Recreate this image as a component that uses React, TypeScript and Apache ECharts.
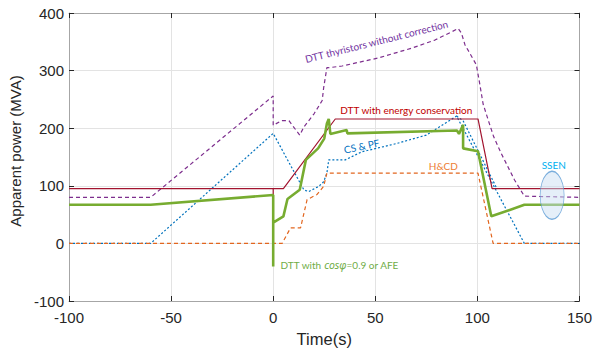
import React, { useEffect, useRef } from "react";
import * as echarts from "echarts";

// ---- data (time s, apparent power MVA) ----
const xTicks = [-100, -50, 0, 50, 100, 150];
const yTicks = [-100, 0, 100, 200, 300, 400];

const purpleThyristors: [number, number][] = [
  [-100, 80], [-60, 80], [0, 256], [0, 205], [4, 213], [7.7, 213], [13, 188],
  [15, 202], [20, 225], [24, 248], [24.7, 270], [26.3, 305], [27.2, 305],
  [33.7, 308], [51.6, 322], [67.8, 339], [79.2, 353], [90.6, 373], [92.2, 365],
  [93.9, 345], [99.5, 310], [101.2, 276], [102.8, 242], [105.5, 212], [108, 185],
  [111.7, 156], [118.2, 110], [123, 82], [150, 80],
];
const blueCsPf: [number, number][] = [
  [-100, 0], [-60, 0], [0, 191], [15, 93], [17.4, 90], [22.3, 99], [24.7, 107],
  [26.3, 122], [27.2, 145], [35.3, 145], [43.4, 159], [60, 173], [75, 188],
  [89.8, 221], [123, 0], [150, 0],
];
const blueCsPf2: [number, number][] = [
  [89.8, 221], [93, 213], [109.3, 97],
];
const orangeHcd: [number, number][] = [
  [-100, 0], [4.4, 0], [8.5, 27], [13.4, 27], [16.6, 76], [21.5, 85],
  [24.7, 99], [26.3, 122], [100.3, 122], [107.7, 0], [150, 0],
];
const redEnergy: [number, number][] = [
  [-100, 95], [0, 95], [0, 84], [0, 95], [5, 95], [30.4, 216], [100.3, 216],
  [107.2, 95], [150, 95],
];
const greenAfe: [number, number][] = [
  [-100, 67], [-60, 67], [0, 84], [0, -40], [0, 36], [5, 47], [7, 77], [13, 93],
  [16, 145], [22, 165], [25, 182], [26.3, 208], [27.2, 216], [28, 190],
  [36, 197], [36.3, 191], [90, 196], [91, 190], [93, 206], [93, 165],
  [100.3, 160], [106.8, 47], [123, 67], [150, 67],
];
const ssenEllipse: [number, number][] = [[136.6, 83.5]];

// annotations: [x, y] in data coords
const annotations = [
  { text: "DTT thyristors without correction", at: [50.6, 351], color: "#7030A0", rot: 14, align: "center" },
  { text: "DTT with energy conservation", at: [65.2, 231], color: "#C00000", rot: 0, align: "center" },
  { text: "CS & PF", at: [43.3, 169], color: "#0070C0", rot: 12, align: "center" },
  { text: "H&CD", at: [83.3, 135], color: "#ED7D31", rot: 0, align: "center" },
  { text: "SSEN", at: [137.4, 136.8], color: "#00B0F0", rot: 0, align: "center" },
];
const greenNoteAt: [number, number] = [3.6, -38];

const FONT = "Liberation Sans, Arial, sans-serif";
const ANNOT_FONT = "Lato, sans-serif";

export default function App() {
  const ref = useRef<HTMLDivElement>(null);
  useEffect(() => {
    if (!ref.current) return;
    const chart = echarts.init(ref.current, undefined, { renderer: "svg" });
    const axisLineColor = "#a6a6a6";
    const tickColor = "#262626";
    const baseX = {
      type: "value" as const,
      min: -100,
      max: 150,
      interval: 50,
      axisLine: { show: true, onZero: false, lineStyle: { color: axisLineColor, width: 1 } },
      axisTick: { show: true, inside: true, length: 5, lineStyle: { color: tickColor } },
    };
    const baseY = {
      type: "value" as const,
      min: -100,
      max: 400,
      interval: 100,
      axisLine: { show: true, onZero: false, lineStyle: { color: axisLineColor, width: 1 } },
      axisTick: { show: true, inside: true, length: 5, lineStyle: { color: tickColor } },
    };
    const line = (data: [number, number][], color: string, width: number, type: any, z: number) => ({
      type: "line",
      data,
      showSymbol: false,
      symbol: "none",
      z,
      lineStyle: { color, width, type },
      emphasis: { disabled: true },
    });
    chart.setOption({
      animation: false,
      grid: { left: 69, right: 13, top: 13, bottom: 46, containLabel: false },
      xAxis: [
        {
          ...baseX,
          position: "bottom",
          axisLabel: { fontSize: 15, color: tickColor, fontFamily: FONT, margin: 9 },
          splitLine: { show: true, lineStyle: { color: "#e3e3e3", width: 1 } },
          name: "Time(s)",
          nameLocation: "middle",
          nameGap: 29,
          nameTextStyle: { fontSize: 16.5, color: tickColor, fontFamily: FONT },
        },
        { ...baseX, position: "top", axisLabel: { show: false }, splitLine: { show: false } },
      ],
      yAxis: [
        {
          ...baseY,
          position: "left",
          axisLabel: { fontSize: 15, color: tickColor, fontFamily: FONT, margin: 5 },
          splitLine: { show: true, lineStyle: { color: "#e3e3e3", width: 1 } },
          name: "Apparent power (MVA)",
          nameLocation: "middle",
          nameGap: 36,
          nameTextStyle: { fontSize: 15, color: tickColor, fontFamily: FONT, padding: [0, 0, 0, 12] },
        },
        { ...baseY, position: "right", axisLabel: { show: false }, splitLine: { show: false } },
      ],
      series: [
        line(purpleThyristors, "#7E2F8E", 1.2, [4, 3], 2),
        line(blueCsPf, "#0072BD", 1.2, [2, 2], 3),
        line(blueCsPf2, "#0072BD", 1.2, [2, 2], 3),
        line(orangeHcd, "#E2661F", 1.2, [4, 3], 3),
        line(redEnergy, "#A2142F", 1.2, "solid", 4),
        line(greenAfe, "#77AC30", 2.6, "solid", 5),
        {
          type: "scatter",
          data: ssenEllipse,
          symbol: "circle",
          symbolSize: [24, 48],
          z: 6,
          itemStyle: { color: "rgba(200,222,242,0.6)", borderColor: "#5B9BD5", borderWidth: 1 },
          emphasis: { disabled: true },
        },
      ],
    });
    const graphics: any[] = annotations.map((a) => {
      const p = chart.convertToPixel({ gridIndex: 0 }, a.at) as number[];
      return {
        type: "text",
        x: p[0],
        y: p[1],
        rotation: (a.rot * Math.PI) / 180,
        z: 10,
        style: {
          text: a.text,
          fill: a.color,
          fontSize: 10,
          fontFamily: ANNOT_FONT,
          align: a.align,
          verticalAlign: "middle",
        },
      };
    });
    const gp = chart.convertToPixel({ gridIndex: 0 }, greenNoteAt) as number[];
    graphics.push({
      type: "text",
      x: gp[0],
      y: gp[1],
      z: 10,
      style: {
        text: "{a|DTT with }{b|cosφ}{a|=0.9 or AFE}",
        align: "left",
        verticalAlign: "middle",
        rich: {
          a: { fill: "#70AD47", fontSize: 10, fontFamily: ANNOT_FONT },
          b: { fill: "#70AD47", fontSize: 10.5, fontFamily: "Noto Sans, sans-serif", fontStyle: "italic" },
        },
      },
    });
    chart.setOption({ graphic: graphics });
    return () => chart.dispose();
  }, []);
  return <div ref={ref} style={{ width: 595, height: 352, position: "absolute", left: 0, top: 0 }} />;
}
